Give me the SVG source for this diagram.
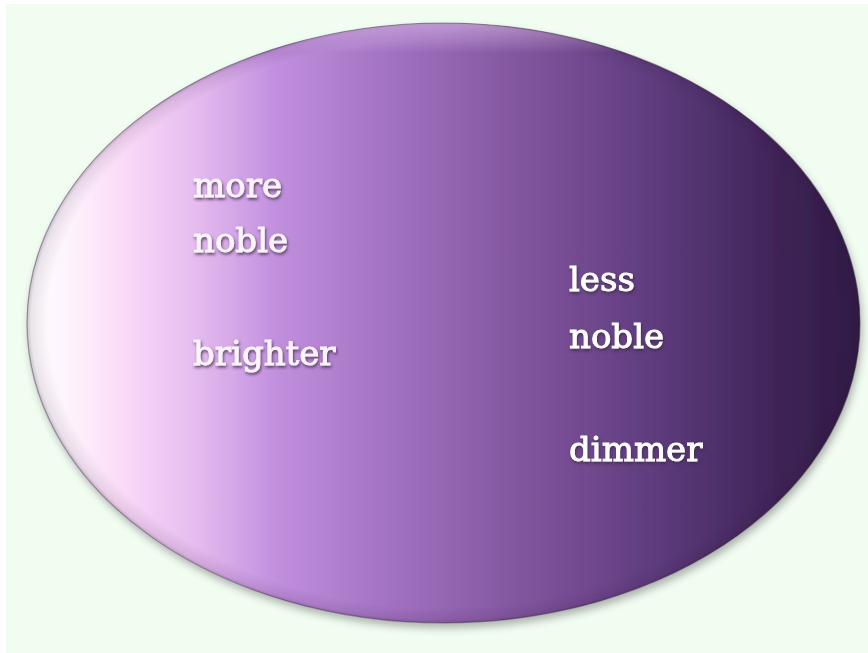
<svg xmlns="http://www.w3.org/2000/svg" width="868" height="653" viewBox="0 0 868 653">
  <defs>
    <linearGradient id="fillGrad" x1="27" y1="0" x2="860" y2="0" gradientUnits="userSpaceOnUse">
      <stop offset="0" stop-color="#ffffff"/>
      <stop offset="0.06" stop-color="#fdf0fc"/>
      <stop offset="0.11" stop-color="#fbdcf8"/>
      <stop offset="0.2" stop-color="#e6bdf0"/>
      <stop offset="0.3" stop-color="#c18fde"/>
      <stop offset="0.45" stop-color="#9e6fbe"/>
      <stop offset="0.6" stop-color="#80549d"/>
      <stop offset="0.75" stop-color="#5f3c7e"/>
      <stop offset="0.9" stop-color="#3f2458"/>
      <stop offset="1" stop-color="#2f1a45"/>
    </linearGradient>
    <radialGradient id="bevel" cx="0.5" cy="0.5" r="0.5">
      <stop offset="0.95" stop-color="#2a1030" stop-opacity="0"/>
      <stop offset="0.99" stop-color="#2a1030" stop-opacity="0.1"/>
      <stop offset="1" stop-color="#2a1030" stop-opacity="0.25"/>
    </radialGradient>
    <linearGradient id="topShine" x1="0" y1="0" x2="0" y2="1">
      <stop offset="0" stop-color="#f4d8ff" stop-opacity="0.5"/>
      <stop offset="0.05" stop-color="#f4d8ff" stop-opacity="0"/>
      <stop offset="1" stop-color="#ffffff" stop-opacity="0"/>
    </linearGradient>
    <filter id="shadow" x="-10%" y="-10%" width="120%" height="120%">
      <feGaussianBlur in="SourceAlpha" stdDeviation="4"/>
      <feOffset dx="2" dy="5" result="b"/>
      <feComponentTransfer><feFuncA type="linear" slope="0.3"/></feComponentTransfer>
      <feMerge><feMergeNode/><feMergeNode in="SourceGraphic"/></feMerge>
    </filter>
    <filter id="textShadow" x="-20%" y="-30%" width="140%" height="160%">
      <feGaussianBlur in="SourceAlpha" stdDeviation="1.5"/>
      <feOffset dx="1" dy="1.5" result="b"/>
      <feFlood flood-color="#3a2a40" flood-opacity="0.8"/>
      <feComposite in2="b" operator="in"/>
      <feMerge><feMergeNode/><feMergeNode in="SourceGraphic"/></feMerge>
    </filter>
  </defs>
  <style>
    .lbl { font-family: "DejaVu Serif", "Liberation Serif", serif; font-size: 34px; fill: #ffffff; stroke: #ffffff; stroke-width: 0.9px; }
    .lblL { fill: #fbf4fb; stroke: #fbf4fb; }
  </style>
  <rect x="0" y="0" width="868" height="653" fill="#ffffff"/>
  <rect x="6" y="4" width="862" height="649" fill="#f2fdf2"/>
  <g id="oval">
    <ellipse cx="443.5" cy="323" rx="416.5" ry="300" fill="url(#fillGrad)" filter="url(#shadow)"/>
    <ellipse cx="443.5" cy="323" rx="416.5" ry="300" fill="url(#bevel)"/>
    <ellipse cx="443.5" cy="323" rx="416.5" ry="300" fill="url(#topShine)"/>
    <ellipse cx="443.5" cy="323" rx="416.5" ry="300" fill="none" stroke="#4a3a55" stroke-opacity="0.5" stroke-width="1.2"/>
  </g>
  <g id="left-labels" filter="url(#textShadow)">
    <text class="lbl lblL" x="193" y="197">more</text>
    <text class="lbl lblL" x="193" y="252">noble</text>
    <text class="lbl lblL" x="193" y="365">brighter</text>
  </g>
  <g id="right-labels" filter="url(#textShadow)">
    <text class="lbl" x="569" y="291">less</text>
    <text class="lbl" x="569" y="348">noble</text>
    <text class="lbl" x="569" y="461">dimmer</text>
  </g>
</svg>
